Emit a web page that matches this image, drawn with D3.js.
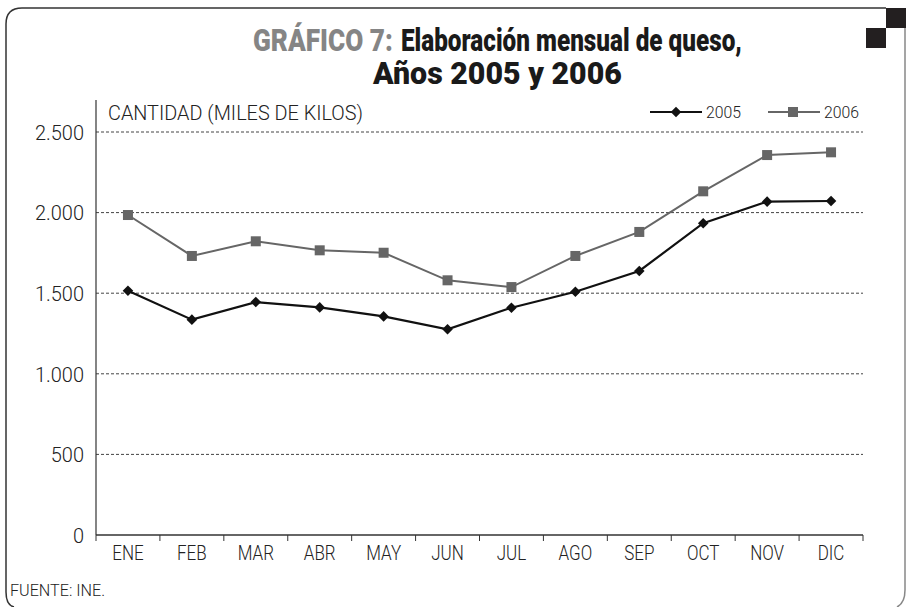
<!DOCTYPE html>
<html><head><meta charset="utf-8">
<script src="https://cdn.jsdelivr.net/npm/d3@7"></script>
<style>body{margin:0;background:#fff}svg{display:block}</style>
</head><body>
<svg id="c" width="907" height="607"></svg>
<script>
const months = ["ENE","FEB","MAR","ABR","MAY","JUN","JUL","AGO","SEP","OCT","NOV","DIC"];
const series2005 = [1515,1336,1445,1412,1356,1276,1410,1509,1638,1934,2068,2072];
const series2006 = [1985,1731,1822,1766,1751,1580,1538,1731,1880,2132,2357,2374];
const yTicks = [0,500,1000,1500,2000,2500];
const seriesNames = ["2005","2006"];

const svg = d3.select("#c");
const L=96,R=863,T=132,B=535;
const x = d3.scaleBand().domain(months).range([L,R]);
const y = d3.scaleLinear().domain([0,2500]).range([B,T]);

function condense(sel, f){
  sel.each(function(){ const w=this.getComputedTextLength(); d3.select(this).attr("textLength",w*f).attr("lengthAdjust","spacingAndGlyphs"); });
}
function fitText(x0, y0, width, str, attrs){
  const g = svg.append("g");
  const t = g.append("text").attr("x",0).attr("y",0).text(str);
  Object.entries(attrs).forEach(([k,v])=>t.attr(k,v));
  const w = t.node().getComputedTextLength();
  g.attr("transform",`translate(${x0},${y0}) scale(${width/w},1)`);
  return t;
}

// frame
svg.append("path").attr("d","M14,607 Q6,605 6,592 L6,24 Q6,8 22,8 L886,8").attr("fill","none").attr("stroke","#333").attr("stroke-width",1.5);
svg.append("path").attr("d","M905,28 L905,590 Q905,603 897,607").attr("fill","none").attr("stroke","#888").attr("stroke-width",1.5);
svg.append("rect").attr("x",886).attr("y",8).attr("width",20).attr("height",20).attr("fill","#231f20");
svg.append("rect").attr("x",866).attr("y",28).attr("width",20).attr("height",20).attr("fill","#231f20");

// title
const tf = "Roboto,sans-serif";
const titleAttrs = {"font-family":tf,"font-weight":900,"font-size":31};
fitText(253,51,140,"GRÁFICO 7:",{...titleAttrs,fill:"#858585"});
fitText(401,51,341,"Elaboración mensual de queso,",{...titleAttrs,fill:"#1a1a1a"});
fitText(373,84,249,"Años 2005 y 2006",{...titleAttrs,fill:"#1a1a1a"});

// grid
svg.append("g").selectAll("line").data(yTicks.filter(d=>d>0)).join("line")
  .attr("x1",L).attr("x2",R).attr("y1",d=>y(d)).attr("y2",d=>y(d))
  .attr("stroke","#444").attr("stroke-width",1).attr("stroke-dasharray","3,2");

// y axis
const ya = svg.append("g").attr("transform",`translate(${L},0)`).call(d3.axisLeft(y).tickValues(yTicks).tickSize(0).tickPadding(12)
  .tickFormat(d=>d3.format(",")(d).replace(",",".")));
ya.select(".domain").attr("stroke","#333").attr("stroke-width",1.2).attr("d",`M0,${B}V100`);
ya.selectAll("text").attr("font-family",tf).attr("font-size",21).attr("font-weight",300).attr("fill","#222").attr("dy","0.35em").call(condense,0.95);

// x axis
const xa = svg.append("g").attr("transform",`translate(0,${B})`).call(d3.axisBottom(x).tickSize(0).tickPadding(11));
xa.select(".domain").attr("stroke","#333").attr("stroke-width",1.5).attr("d",`M${L},0H${R}`);
xa.selectAll("text").attr("font-family",tf).attr("font-size",20).attr("font-weight",300).attr("fill","#222").attr("dy","0.71em").call(condense,0.85);
svg.append("g").selectAll("line").data(d3.range(months.length+1)).join("line")
  .attr("x1",i=>L+i*x.step()).attr("x2",i=>L+i*x.step()).attr("y1",B).attr("y2",B+6)
  .attr("stroke","#333").attr("stroke-width",1);

svg.append("text").attr("x",108).attr("y",120).attr("font-family",tf).attr("font-size",20).attr("font-weight",300).attr("fill","#222")
  .attr("textLength",255).attr("lengthAdjust","spacingAndGlyphs").text("CANTIDAD (MILES DE KILOS)");
svg.append("text").attr("x",10).attr("y",596).attr("font-family",tf).attr("font-size",16).attr("font-weight",300).attr("fill","#222")
  .attr("textLength",95).attr("lengthAdjust","spacingAndGlyphs").text("FUENTE: INE.");

const line = d3.line().x((d,i)=>x(months[i])+x.bandwidth()/2).y(d=>y(d));
// 2006
svg.append("path").datum(series2006).attr("d",line).attr("fill","none").attr("stroke","#666").attr("stroke-width",2);
svg.append("g").selectAll("rect").data(series2006).join("rect")
  .attr("x",(d,i)=>x(months[i])+x.bandwidth()/2-5).attr("y",d=>y(d)-5).attr("width",10).attr("height",10).attr("fill","#666");
// 2005
svg.append("path").datum(series2005).attr("d",line).attr("fill","none").attr("stroke","#111").attr("stroke-width",2.2);
const diamond = d3.symbol().type(d3.symbolSquare).size(56);
svg.append("g").selectAll("path").data(series2005).join("path")
  .attr("transform",(d,i)=>`translate(${x(months[i])+x.bandwidth()/2},${y(d)}) rotate(45)`).attr("d",diamond).attr("fill","#111");

// legend
const lg = svg.append("g");
lg.append("line").attr("x1",650).attr("x2",702).attr("y1",112).attr("y2",112).attr("stroke","#111").attr("stroke-width",2.2);
lg.append("path").attr("transform","translate(676,112) rotate(45)").attr("d",diamond).attr("fill","#111");
lg.append("text").attr("x",706).attr("y",118).attr("font-family",tf).attr("font-size",17).attr("font-weight",300).attr("fill","#222")
  .attr("textLength",35).attr("lengthAdjust","spacingAndGlyphs").text(seriesNames[0]);
lg.append("line").attr("x1",768).attr("x2",820).attr("y1",112).attr("y2",112).attr("stroke","#666").attr("stroke-width",2);
lg.append("rect").attr("x",788).attr("y",107).attr("width",10).attr("height",10).attr("fill","#666");
lg.append("text").attr("x",824).attr("y",118).attr("font-family",tf).attr("font-size",17).attr("font-weight",300).attr("fill","#222")
  .attr("textLength",35).attr("lengthAdjust","spacingAndGlyphs").text(seriesNames[1]);
</script>
</body></html>
